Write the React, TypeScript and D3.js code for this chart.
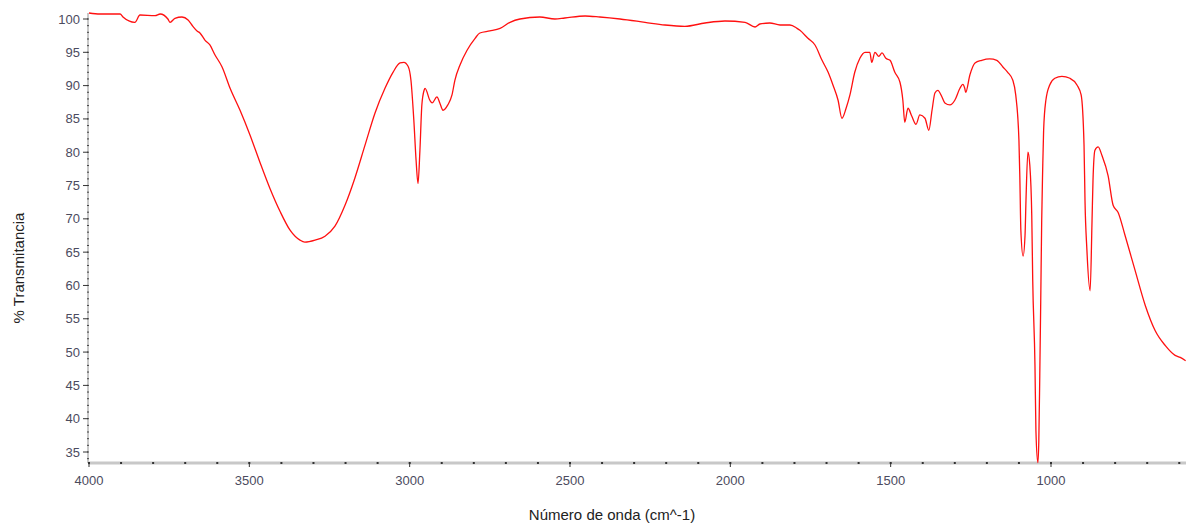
import React from "react";
import * as d3 from "d3";

// espectro IR: numero de onda (cm^-1) y % transmitancia
const wavenumbers = [
  4000, 3966, 3903, 3894, 3857, 3841, 3794, 3778, 3754, 3747, 3732, 3710, 3691, 3676, 3663, 3654,
  3638, 3623, 3607, 3585, 3560, 3529, 3498, 3467, 3436, 3404, 3373, 3342, 3327, 3295, 3264, 3233,
  3202, 3171, 3139, 3108, 3077, 3052, 3030, 3018, 3005, 2996, 2987, 2980, 2974, 2968, 2962, 2955,
  2952, 2937, 2930, 2915, 2906, 2896, 2881, 2868, 2859, 2843, 2821, 2796, 2781, 2750, 2718, 2687,
  2656, 2594, 2547, 2516, 2453, 2407, 2344, 2266, 2204, 2142, 2079, 2017, 1954, 1923, 1908, 1877,
  1845, 1814, 1792, 1783, 1758, 1736, 1714, 1695, 1680, 1664, 1652, 1639, 1627, 1612, 1596, 1580,
  1565, 1559, 1549, 1537, 1527, 1515, 1502, 1487, 1471, 1462, 1456, 1446, 1434, 1421, 1409, 1393,
  1381, 1371, 1362, 1353, 1340, 1331, 1315, 1300, 1284, 1275, 1269, 1266, 1253, 1237, 1216, 1191,
  1169, 1150, 1135, 1119, 1110, 1100, 1097, 1094, 1087, 1081, 1078, 1072, 1066, 1060, 1057, 1050,
  1047, 1041, 1038, 1035, 1032, 1029, 1026, 1023, 1016, 1004, 988, 966, 941, 919, 906, 897,
  894, 888, 878, 872, 869, 863, 853, 841, 822, 806, 791, 769, 738, 706, 675, 644,
  613, 597, 580,
];
const transmittance = [
  100.9, 100.75, 100.75, 100.3, 99.5, 100.6, 100.5, 100.75, 100.0, 99.5, 100.1, 100.3, 99.85, 98.9, 98.2, 97.9,
  96.8, 96.1, 94.6, 92.8, 89.6, 86.3, 82.6, 78.5, 74.6, 71.1, 68.3, 66.8, 66.5, 66.8, 67.4, 68.9,
  72.0, 76.1, 81.1, 85.9, 89.6, 92.0, 93.4, 93.5, 92.9, 90.8, 84.8, 78.8, 75.3, 80.3, 87.1, 89.3,
  89.6, 87.8, 87.4, 88.3, 87.4, 86.3, 87.1, 88.6, 90.8, 93.1, 95.3, 97.1, 97.9, 98.2, 98.6, 99.5,
  100.0, 100.3, 100.0, 100.15, 100.45, 100.3, 100.0, 99.5, 99.1, 98.9, 99.4, 99.7, 99.5, 98.8, 99.25, 99.4,
  99.1, 99.1, 98.6, 98.3, 97.1, 96.1, 93.8, 92.0, 90.1, 87.8, 85.1, 86.6, 88.6, 92.0, 94.1, 95.0,
  95.0, 93.5, 95.0, 94.4, 94.9, 94.1, 93.8, 92.0, 90.5, 87.8, 84.5, 86.6, 85.4, 84.2, 85.6, 85.1,
  83.3, 86.3, 88.9, 89.3, 88.3, 87.4, 87.1, 87.8, 89.6, 90.2, 89.6, 89.0, 91.6, 93.4, 93.8, 94.0,
  93.8, 92.8, 92.0, 90.8, 88.6, 81.8, 75.8, 68.3, 64.4, 67.5, 72.8, 80.0, 78.0, 70.5, 60.8, 48.0,
  38.2, 33.4, 36.7, 46.5, 57.7, 69.8, 77.3, 83.3, 87.8, 90.1, 91.1, 91.4, 91.1, 90.1, 88.6, 81.1,
  72.8, 65.3, 59.2, 69.8, 75.8, 80.3, 80.8, 79.5, 76.5, 72.0, 71.0, 67.5, 62.3, 57.0, 53.2, 51.0,
  49.5, 49.2, 48.7,
];
const xTicks = [4000, 3500, 3000, 2500, 2000, 1500, 1000];
const yTicks = [35, 40, 45, 50, 55, 60, 65, 70, 75, 80, 85, 90, 95, 100];

const W = 1186;
const H = 523;
const left = 88;
const right = 1186;
const top = 13;
const bottom = 463;

export default function App() {
  const x = d3.scaleLinear().domain([4000, 1000]).range([89, 1051]);
  const y = d3.scaleLinear().domain([35, 100]).range([452, 19]);

  const pts = wavenumbers.map((w, i) => [w, transmittance[i]] as [number, number]);
  const line = d3.line<[number, number]>()
    .x(d => x(d[0]))
    .y(d => y(d[1]))
    .curve(d3.curveMonotoneX);

  const xMinor = d3.range(4000, x.invert(right), -100);
  const yMinor = d3.range(34, 101, 1);

  const tickColor = "#4b4b5e";
  const font = "Arial, 'Liberation Sans', sans-serif";

  return (
    <svg width={W} height={H} style={{ position: "absolute", left: 0, top: 0, background: "#fff" }}>
      <defs>
        <clipPath id="plot">
          <rect x={left} y={0} width={right - left} height={bottom + 1} />
        </clipPath>
      </defs>

      {/* eje y */}
      <line x1={left} x2={left} y1={top} y2={bottom} stroke="#c8c8c8" strokeWidth={2} />
      {yMinor.map(v => (
        <line key={"ym" + v} x1={left - 1} x2={left + 1} y1={y(v)} y2={y(v)} stroke="#444" strokeWidth={1} />
      ))}
      {yTicks.map(v => (
        <g key={"y" + v}>
          <line x1={left - 5} x2={left} y1={y(v)} y2={y(v)} stroke="#333" strokeWidth={1} />
          <text x={left - 8} y={y(v)} dy="0.35em" textAnchor="end" fontSize={13} fill={tickColor} fontFamily={font}>
            {v}
          </text>
        </g>
      ))}

      {/* eje x */}
      <line x1={left} x2={right} y1={bottom} y2={bottom} stroke="#c8c8c8" strokeWidth={3} />
      {xMinor.map(v => (
        <rect key={"xm" + v} x={x(v) - 1} y={bottom - 1} width={2} height={2} fill="#333" />
      ))}
      {xTicks.map(v => (
        <g key={"x" + v}>
          <line x1={x(v)} x2={x(v)} y1={bottom - 1} y2={bottom + 4} stroke="#333" strokeWidth={1} />
          <text x={x(v)} y={bottom + 22} textAnchor="middle" fontSize={13} fill={tickColor} fontFamily={font}>
            {v}
          </text>
        </g>
      ))}

      {/* espectro */}
      <path d={line(pts) ?? ""} fill="none" stroke="#ff1010" strokeWidth={1.3} clipPath="url(#plot)" />

      <text
        transform={`translate(24,${(top + bottom) / 2 + 30}) rotate(-90)`}
        textAnchor="middle"
        fontSize={15}
        fill="#222"
        fontFamily={font}
      >
        % Transmitancia
      </text>
      <text x={612} y={520} textAnchor="middle" fontSize={15} fill="#222" fontFamily={font}>
        Número de onda (cm^-1)
      </text>
    </svg>
  );
}
